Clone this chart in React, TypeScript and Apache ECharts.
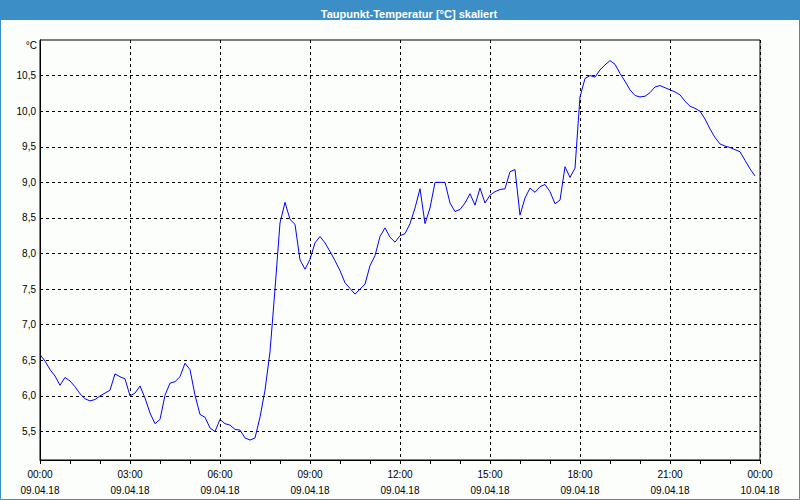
import React, { useEffect, useRef } from "react";
import * as echarts from "echarts";

// Sampling every 10 minutes, starting 09.04.18 00:00
const stepMinutes = 10;
const dewPoint: number[] = [
  6.58, 6.49, 6.37, 6.28, 6.15, 6.26, 6.21, 6.13, 6.03, 5.96, 5.93, 5.95,
  6.0, 6.04, 6.08, 6.31, 6.27, 6.24, 6.0, 6.04, 6.14, 5.97, 5.76, 5.61,
  5.67, 6.01, 6.18, 6.2, 6.27, 6.46, 6.37, 6.01, 5.74, 5.7, 5.55, 5.5,
  5.67, 5.61, 5.59, 5.53, 5.52, 5.41, 5.38, 5.41, 5.7, 6.08, 6.62, 7.5,
  8.43, 8.72, 8.48, 8.41, 7.91, 7.78, 7.92, 8.15, 8.24, 8.15, 8.03, 7.9,
  7.76, 7.59, 7.51, 7.43, 7.5, 7.57, 7.83, 7.97, 8.24, 8.36, 8.23, 8.16,
  8.25, 8.28, 8.42, 8.64, 8.91, 8.42, 8.64, 9.0, 9.0, 9.0, 8.71, 8.59,
  8.62, 8.71, 8.84, 8.68, 8.92, 8.71, 8.82, 8.87, 8.9, 8.91, 9.15, 9.18,
  8.54, 8.78, 8.92, 8.86, 8.94, 8.97, 8.87, 8.7, 8.75, 9.22, 9.07, 9.2,
  10.2, 10.46, 10.5, 10.48, 10.58, 10.65, 10.71, 10.66, 10.53, 10.42, 10.3, 10.22,
  10.2, 10.21, 10.26, 10.34, 10.36, 10.33, 10.3, 10.27, 10.23, 10.14, 10.07, 10.04,
  10.0, 9.89, 9.75, 9.63, 9.54, 9.51, 9.49, 9.46, 9.43, 9.31, 9.19, 9.09,
];
const yTickValues = [5.5, 6.0, 6.5, 7.0, 7.5, 8.0, 8.5, 9.0, 9.5, 10.0, 10.5];
const dayLabels = ["09.04.18", "10.04.18"];
const titleText = "Taupunkt-Temperatur [°C] skaliert";
const unitText = "°C";

const FONT = "Liberation Sans";
const BLUE = "#3c8ec6";

export default function App() {
  const ref = useRef<HTMLDivElement>(null);
  useEffect(() => {
    if (!ref.current) return;
    const chart = echarts.init(ref.current, undefined, { renderer: "svg" });
    const data = dewPoint.map((v, i) => [i * stepMinutes, v]);
    chart.setOption({
      animation: false,
      backgroundColor: "#fcfefc",
      title: {
        text: titleText,
        left: 404,
        top: 3,
        textAlign: "center",
        textStyle: { color: "#ffffff", fontFamily: FONT, fontSize: 11, fontWeight: "bold" },
      },
      graphic: [
        { type: "rect", z: -10, silent: true, shape: { x: 0, y: 0, width: 800, height: 20 }, style: { fill: BLUE } },
        { type: "rect", z: 100, silent: true, shape: { x: 0.5, y: 0.5, width: 799, height: 499 }, style: { fill: "none", stroke: BLUE, lineWidth: 1 } },
        {
          type: "text",
          x: 37,
          y: 45,
          style: { text: unitText, fill: "#000", font: `10px "${FONT}"`, textAlign: "right", textVerticalAlign: "middle" },
        },
      ],
      grid: { left: 40, right: 40, top: 40, bottom: 40, show: true, borderColor: "#000", borderWidth: 1, backgroundColor: "transparent" },
      xAxis: {
        type: "value",
        min: 0,
        max: 1440,
        interval: 180,
        axisLine: { show: true, lineStyle: { color: "#000", width: 1 } },
        axisTick: { show: true, length: 4, lineStyle: { color: "#000" } },
        minorTick: { show: true, splitNumber: 3, length: 4, lineStyle: { color: "#000" } },
        splitLine: { show: true, lineStyle: { color: "#000", type: [3, 3], width: 1 } },
        axisLabel: {
          margin: 6,
          color: "#000",
          fontFamily: FONT,
          fontSize: 10,
          lineHeight: 16,
          formatter: (v: number) => {
            const h = Math.floor(v / 60) % 24;
            const m = v % 60;
            const hh = String(h).padStart(2, "0");
            const mm = String(m).padStart(2, "0");
            const day = v >= 1440 ? dayLabels[1] : dayLabels[0];
            return `${hh}:${mm}\n${day}`;
          },
        },
      },
      yAxis: {
        type: "value",
        min: 5.1,
        max: 11.0,
        axisLine: { show: true, lineStyle: { color: "#000" } },
        axisTick: { show: false, customValues: yTickValues },
        splitLine: { show: true, lineStyle: { color: "#000", type: [3, 3], width: 1 } },
        axisLabel: {
          customValues: yTickValues,
          margin: 4,
          color: "#000",
          fontFamily: FONT,
          fontSize: 10,
          formatter: (v: number) => v.toFixed(1).replace(".", ","),
        },
      },
      series: [
        {
          type: "line",
          data,
          showSymbol: false,
          symbol: "none",
          lineStyle: { color: "#0000ff", width: 1 },
          itemStyle: { color: "#0000ff" },
          z: 10,
        },
      ],
    });
    return () => chart.dispose();
  }, []);
  return <div ref={ref} style={{ position: "absolute", left: 0, top: 0, width: 800, height: 500 }} />;
}
